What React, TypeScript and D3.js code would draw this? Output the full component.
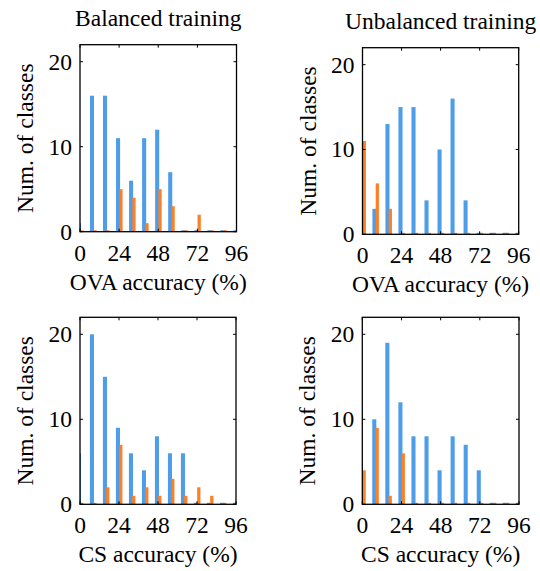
import React from "react";
import * as d3 from "d3";

// Histogram bin centers (accuracy, %)
const bins = [0, 8, 16, 24, 32, 40, 48, 56, 64, 72, 80, 88, 96];

// Number of classes per accuracy bin, two series per panel
const balancedOvaBlue = [1, 16, 16, 11, 6, 11, 12, 7, 0, 0, 0, 0, 0];
const balancedOvaOrange = [0, 0, 0, 5, 4, 1, 5, 3, 0, 2, 0, 0, 0];
const unbalancedOvaBlue = [0, 3, 13, 15, 15, 4, 10, 16, 4, 0, 0, 0, 0];
const unbalancedOvaOrange = [11, 6, 3, 0, 0, 0, 0, 0, 0, 0, 0, 0, 0];
const balancedCsBlue = [6, 20, 15, 9, 6, 4, 8, 6, 6, 0, 0, 0, 0];
const balancedCsOrange = [0, 0, 2, 7, 1, 2, 1, 3, 1, 2, 1, 0, 0];
const unbalancedCsBlue = [0, 10, 19, 12, 8, 8, 4, 8, 7, 4, 0, 0, 0];
const unbalancedCsOrange = [4, 9, 1, 6, 0, 0, 0, 0, 0, 0, 0, 0, 0];

const xTicks = [0, 24, 48, 72, 96];
const yTicks = [0, 10, 20];
const titles = ["Balanced training", "Unbalanced training"];
const yLabel = "Num. of classes";
const xLabels = ["OVA accuracy (%)", "CS accuracy (%)"];

const BLUE = "#4d9de8";
const ORANGE = "#fd7f28";
const FS = 23.5;
const textStyle: React.CSSProperties = { fontFamily: "Liberation Serif, serif", fontSize: FS };

type PanelProps = {
  id: string;
  left: number;
  right: number;
  top: number;
  bottom: number;
  blue: number[];
  orange: number[];
  xLabel: string;
  title?: string;
};

function Panel({ id, left, right, top, bottom, blue, orange, xLabel, title }: PanelProps) {
  const x = d3.scaleLinear().domain([0, 96]).range([left, right]);
  const y = d3.scaleLinear().domain([0, 22]).range([bottom, top]);
  const tick = 3;
  const barRect = (v: number, x0: number, x1: number, color: string, key: string) => {
    const px0 = x(x0);
    const px1 = x(x1);
    if (v === 0) {
      return <rect key={key} x={px0} y={y(0) - 1.5} width={px1 - px0} height={1.5} fill={color} />;
    }
    return <rect key={key} x={px0} y={y(v)} width={px1 - px0} height={y(0) - y(v)} fill={color} />;
  };
  const cx = (left + right) / 2;
  const cy = (top + bottom) / 2;
  return (
    <g>
      <defs>
        <clipPath id={id}>
          <rect x={left} y={top} width={right - left} height={bottom - top} />
        </clipPath>
      </defs>
      <g clipPath={`url(#${id})`}>
        {bins.map((b, i) => barRect(blue[i], b - 1.9, b + 0.6, BLUE, `b${i}`))}
        {bins.map((b, i) => barRect(orange[i], b + 0.1, b + 2.1, ORANGE, `o${i}`))}
      </g>
      <rect x={left} y={top} width={right - left} height={bottom - top} fill="none" stroke="#000" strokeWidth={1.3} />
      {xTicks.map((t) => (
        <g key={`xt${t}`}>
          <line x1={x(t)} x2={x(t)} y1={bottom} y2={bottom - tick} stroke="#000" />
          <line x1={x(t)} x2={x(t)} y1={top} y2={top + tick} stroke="#000" />
          <text x={x(t)} y={bottom + 29} textAnchor="middle" style={textStyle}>
            {t}
          </text>
        </g>
      ))}
      {yTicks.map((t) => (
        <g key={`yt${t}`}>
          <line x1={left} x2={left + tick} y1={y(t)} y2={y(t)} stroke="#000" />
          <line x1={right} x2={right - tick} y1={y(t)} y2={y(t)} stroke="#000" />
          <text x={left - 8} y={y(t) + 8} textAnchor="end" style={textStyle}>
            {t}
          </text>
        </g>
      ))}
      <text x={cx} y={bottom + 58} textAnchor="middle" style={textStyle}>
        {xLabel}
      </text>
      <text transform={`translate(${left - 47},${cy}) rotate(-90)`} textAnchor="middle" style={textStyle}>
        {yLabel}
      </text>
      {title && (
        <text x={cx} y={top - 19} textAnchor="middle" style={textStyle}>
          {title}
        </text>
      )}
    </g>
  );
}

export default function App() {
  return (
    <svg
      width={540}
      height={571}
      viewBox="0 0 540 571"
      style={{ position: "absolute", left: 0, top: 0, background: "#fff" }}
    >
      <Panel id="c1" left={80} right={236.5} top={44.7} bottom={231.7} blue={balancedOvaBlue} orange={balancedOvaOrange} xLabel={xLabels[0]} title={titles[0]} />
      <Panel id="c2" left={362.5} right={518.7} top={47.7} bottom={234.3} blue={unbalancedOvaBlue} orange={unbalancedOvaOrange} xLabel={xLabels[0]} title={titles[1]} />
      <Panel id="c3" left={80} right={236} top={317.3} bottom={504.3} blue={balancedCsBlue} orange={balancedCsOrange} xLabel={xLabels[1]} />
      <Panel id="c4" left={362.3} right={519} top={317.3} bottom={504.3} blue={unbalancedCsBlue} orange={unbalancedCsOrange} xLabel={xLabels[1]} />
    </svg>
  );
}
